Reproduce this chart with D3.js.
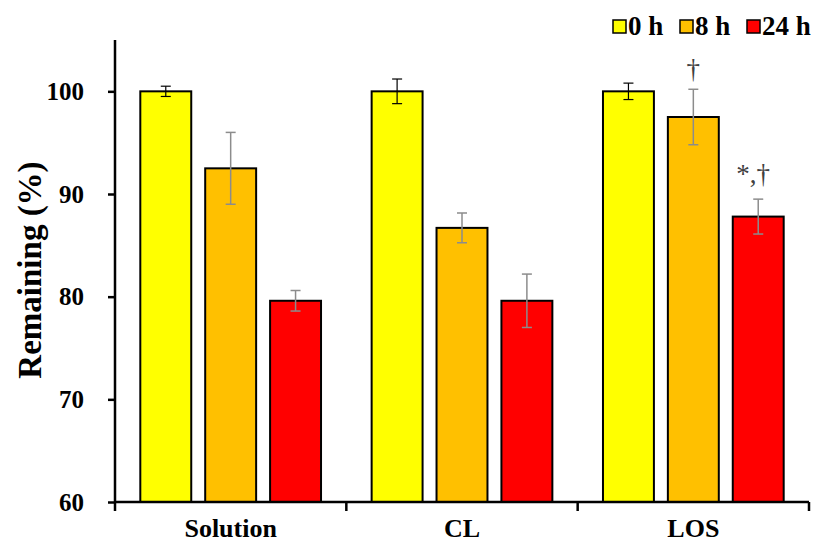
<!DOCTYPE html>
<html>
<head>
<meta charset="utf-8">
<script src="https://cdn.jsdelivr.net/npm/d3@7"></script>
<style>
  body { margin: 0; background: #fff; }
  text { font-family: "Liberation Serif", "Times New Roman", serif; }
</style>
</head>
<body>
<div id="chart"></div>
<script>
// data
const groups = ["Solution", "CL", "LOS"];
const seriesNames = ["0 h", "8 h", "24 h"];
const seriesColors = ["#ffff00", "#ffc000", "#ff0000"];
const errColors = ["#000000", "#8c8c8c", "#8c8c8c"];
const means = [
  [100.0, 92.5, 79.6],   // Solution
  [100.0, 86.7, 79.6],   // CL
  [100.0, 97.5, 87.8]    // LOS
];
const errors = [
  [0.5, 3.5, 1.0],
  [1.2, 1.45, 2.6],
  [0.8, 2.7, 1.7]
];
const yTicks = [60, 70, 80, 90, 100];
const notes = [
  { group: "LOS", series: "8 h", text: "\u2020" },
  { group: "LOS", series: "24 h", text: "*,\u2020" }
];

const W = 817, H = 545;
const margin = { top: 40, right: 8, bottom: 43, left: 115 };
const width = W - margin.left - margin.right;
const height = H - margin.top - margin.bottom;

const svg = d3.select("#chart").append("svg")
  .attr("width", W)
  .attr("height", H);
const g = svg.append("g")
  .attr("transform", "translate(" + margin.left + "," + margin.top + ")");

const x0 = d3.scaleBand().domain(groups).range([0, width]).padding(0);
const x1 = d3.scaleBand().domain(seriesNames).range([0, x0.bandwidth()])
  .paddingInner(0.215).paddingOuter(0.39);
const y = d3.scaleLinear().domain([60, 105]).range([height, 0]);

// bars
const rows = [];
groups.forEach(function (grp, i) {
  seriesNames.forEach(function (s, j) {
    rows.push({ group: grp, series: s, j: j, value: means[i][j], err: errors[i][j] });
  });
});

g.append("g").selectAll("rect")
  .data(rows)
  .enter()
  .append("rect")
    .attr("x", function (d) { return x0(d.group) + x1(d.series); })
    .attr("y", function (d) { return y(d.value); })
    .attr("width", x1.bandwidth())
    .attr("height", function (d) { return y(60) - y(d.value); })
    .attr("fill", function (d) { return seriesColors[d.j]; })
    .attr("stroke", "#000")
    .attr("stroke-width", 2);

// error bars
const eb = g.append("g").selectAll("g")
  .data(rows)
  .enter()
  .append("g")
    .attr("stroke", function (d) { return errColors[d.j]; })
    .attr("stroke-width", function (d) { return d.j === 0 ? 1.2 : 1.5; });
const cx = function (d) { return x0(d.group) + x1(d.series) + x1.bandwidth() / 2; };
eb.append("line")
  .attr("x1", cx).attr("x2", cx)
  .attr("y1", function (d) { return y(d.value + d.err); })
  .attr("y2", function (d) { return y(d.value - d.err); });
eb.selectAll(".cap")
  .data(function (d) { return [d.value + d.err, d.value - d.err].map(function (v) { return { d: d, v: v }; }); })
  .enter()
  .append("line")
    .attr("x1", function (c) { return cx(c.d) - 5; })
    .attr("x2", function (c) { return cx(c.d) + 5; })
    .attr("y1", function (c) { return y(c.v); })
    .attr("y2", function (c) { return y(c.v); });

// significance marks
g.append("g").selectAll("text")
  .data(notes)
  .enter()
  .append("text")
    .attr("x", function (d) { return x0(d.group) + x1(d.series) + x1.bandwidth() / 2 - (d.text.length > 1 ? 5 : 0); })
    .attr("y", function (d) {
      const i = groups.indexOf(d.group), j = seriesNames.indexOf(d.series);
      return y(means[i][j] + errors[i][j]) - (d.text.length > 1 ? 16 : 11);
    })
    .attr("text-anchor", "middle")
    .attr("font-size", 27)
    .attr("fill", "#404040")
    .text(function (d) { return d.text; });

// axes
const yAxis = g.append("g")
  .call(d3.axisLeft(y).tickValues(yTicks).tickSize(7).tickPadding(24).tickFormat(d3.format("d")));
yAxis.select(".domain").attr("stroke-width", 2.5).attr("d", "M0," + height + "V0");
yAxis.selectAll(".tick line").attr("stroke-width", 2.5);
yAxis.selectAll("text").attr("font-size", 25).attr("font-weight", "bold").attr("fill", "#000")
  .style("font-family", "Liberation Serif");

const xAxis = g.append("g")
  .attr("transform", "translate(0," + height + ")")
  .call(d3.axisBottom(x0).tickSize(0));
xAxis.select(".domain").attr("stroke-width", 2.5).attr("d", "M0,0H" + width);
xAxis.selectAll("text").attr("font-size", 26).attr("font-weight", "bold").attr("fill", "#000")
  .attr("y", 35).attr("dy", 0).style("font-family", "Liberation Serif");
// group boundary ticks
xAxis.selectAll(".bound")
  .data(groups.concat(["end"]))
  .enter()
  .append("line")
    .attr("x1", function (d, i) { return i < groups.length ? x0(d) : width; })
    .attr("x2", function (d, i) { return i < groups.length ? x0(d) : width; })
    .attr("y1", 0).attr("y2", 9)
    .attr("stroke", "#000").attr("stroke-width", 2.5);

// y title
g.append("text")
  .attr("transform", "translate(" + (29 - margin.left) + "," + (270 - margin.top) + ") rotate(-90)")
  .attr("text-anchor", "middle")
  .attr("dy", "0.35em")
  .attr("font-size", 33)
  .attr("font-weight", "bold")
  .text("Remaining (%)");

// legend
const legX = [613, 680, 747];
const leg = svg.append("g").selectAll("g")
  .data(seriesNames)
  .enter()
  .append("g")
    .attr("transform", function (d, i) { return "translate(" + legX[i] + ",20)"; });
leg.append("rect")
  .attr("width", 13).attr("height", 13)
  .attr("fill", function (d, i) { return seriesColors[i]; })
  .attr("stroke", "#000").attr("stroke-width", 1.5);
leg.append("text")
  .attr("x", 15).attr("y", 15)
  .attr("font-size", 27)
  .attr("font-weight", "bold")
  .text(function (d) { return d; });
</script>
</body>
</html>
